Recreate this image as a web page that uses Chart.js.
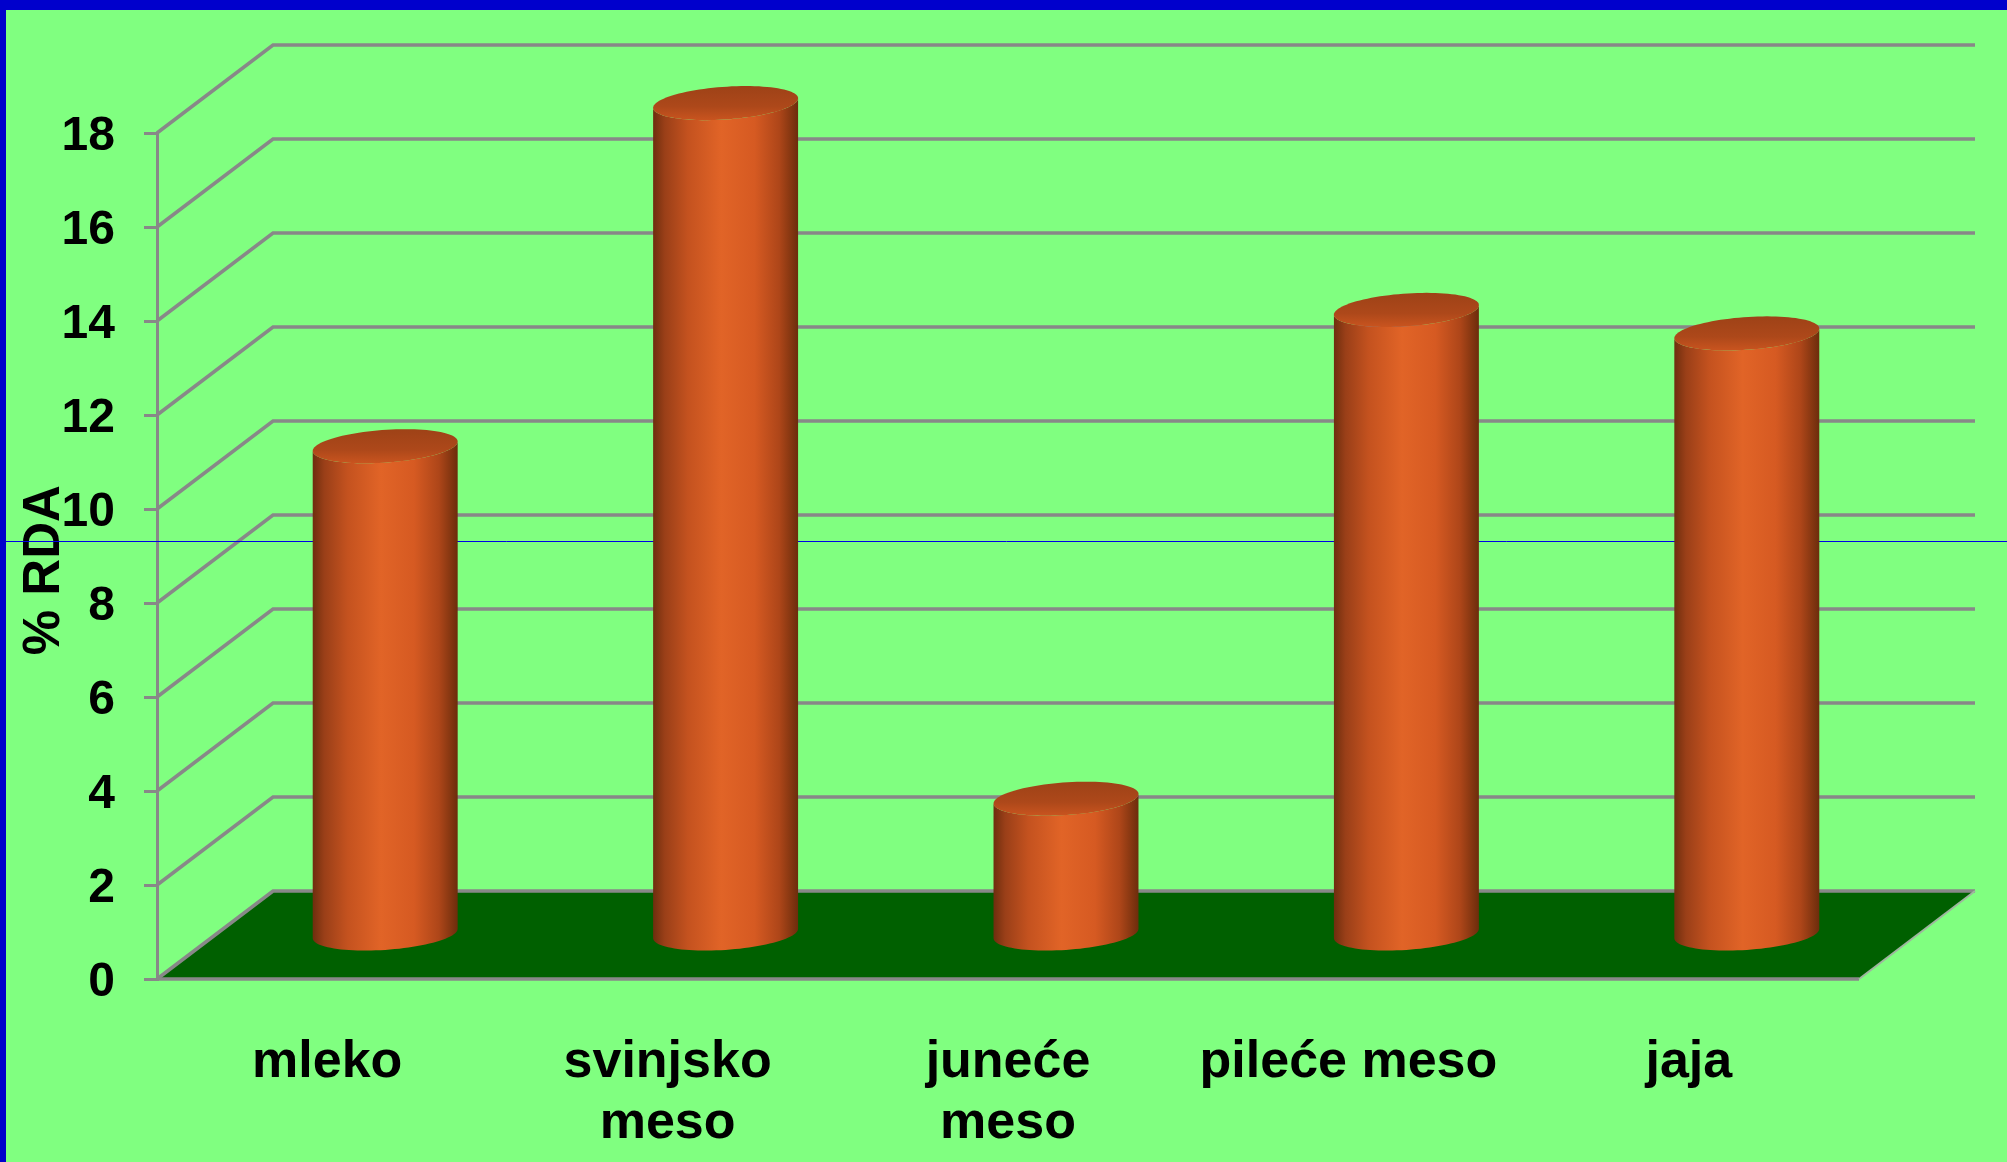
<!DOCTYPE html>
<html>
<head>
<meta charset="utf-8">
<title>% RDA</title>
<script src="https://cdn.jsdelivr.net/npm/chart.js@4.4.1/dist/chart.umd.min.js"></script>
<style>
  html, body { margin: 0; padding: 0; background: #80ff80; overflow: hidden; }
  canvas { display: block; }
</style>
</head>
<body>
<canvas id="rdaChart" width="2007" height="1162"></canvas>
<script>
// Categories (multi-line where the label wraps)
const categories = ['mleko', ['svinjsko', 'meso'], ['juneće', 'meso'], 'pileće meso', 'jaja'];
// Share of the recommended daily allowance, in %
const rdaValues = [10.4, 17.7, 2.9, 13.3, 12.8];
// Value axis ticks
const yTickValues = [0, 2, 4, 6, 8, 10, 12, 14, 16, 18];

const FONT = "'Liberation Sans', Arial, Helvetica, sans-serif";
const GRID = '#888888';
// Oblique depth of the 3D box (screen offset from front to back plane)
const DEPTH_X = 116;
const DEPTH_Y = 88;
// Oblique projection of a horizontal circle: x = r(cos t + K_X sin t), y = -K_Y r sin t
const K_X = 0.29;
const K_Y = 0.245;

function ringPoint(cx, cy, r, t) {
  return [cx + r * (Math.cos(t) + K_X * Math.sin(t)), cy - K_Y * r * Math.sin(t)];
}

const scene3d = {
  id: 'scene3d',
  beforeDraw(chart) {
    const { ctx, width, height } = chart;
    ctx.save();
    ctx.fillStyle = '#80ff80';
    ctx.fillRect(0, 0, width, height);
    ctx.fillStyle = '#0000cc';
    ctx.fillRect(0, 0, width, 10);
    ctx.fillRect(0, 0, 6, height);
    ctx.restore();
  },
  beforeDatasetsDraw(chart) {
    const { ctx, chartArea: a, scales: { y }, width } = chart;
    const y0 = y.getPixelForValue(0);
    ctx.save();

    // floor
    ctx.fillStyle = '#006000';
    ctx.beginPath();
    ctx.moveTo(a.left, y0);
    ctx.lineTo(a.left + DEPTH_X, y0 - DEPTH_Y);
    ctx.lineTo(a.right + DEPTH_X, y0 - DEPTH_Y);
    ctx.lineTo(a.right, y0);
    ctx.closePath();
    ctx.fill();

    // side wall diagonals + back wall gridlines
    ctx.strokeStyle = GRID;
    ctx.lineWidth = 3.5;
    ctx.lineJoin = 'miter';
    yTickValues.forEach(v => {
      const py = y.getPixelForValue(v);
      ctx.beginPath();
      ctx.moveTo(a.left, py);
      ctx.lineTo(a.left + DEPTH_X, py - DEPTH_Y);
      ctx.lineTo(a.right + DEPTH_X, py - DEPTH_Y);
      ctx.stroke();
    });

    // floor front and right edges
    ctx.beginPath();
    ctx.moveTo(a.left, y0);
    ctx.lineTo(a.right, y0);
    ctx.stroke();
    ctx.strokeStyle = '#9fb59f';
    ctx.lineWidth = 2;
    ctx.beginPath();
    ctx.moveTo(a.right, y0);
    ctx.lineTo(a.right + DEPTH_X, y0 - DEPTH_Y);
    ctx.stroke();

    // thin blue rule across the slide
    ctx.strokeStyle = '#0000e6';
    ctx.lineWidth = 1;
    ctx.beginPath();
    ctx.moveTo(6, 541.5);
    ctx.lineTo(width, 541.5);
    ctx.stroke();

    ctx.restore();
  },
  afterDatasetsDraw(chart) {
    const { ctx } = chart;
    const meta = chart.getDatasetMeta(0);
    const N = 48;
    ctx.save();
    meta.data.forEach(bar => {
      const { x, y, base, width } = bar.getProps(['x', 'y', 'base', 'width'], true);
      const r = width / 2;
      const cx = x + DEPTH_X / 2;
      const topY = y - DEPTH_Y / 2;
      const botY = base - DEPTH_Y / 2;
      const t0 = Math.atan(K_X);
      const half = r * Math.sqrt(1 + K_X * K_X);

      // cylinder body
      const g = ctx.createLinearGradient(cx - half, 0, cx + half, 0);
      g.addColorStop(0.00, '#6e2e0e');
      g.addColorStop(0.08, '#9a3f18');
      g.addColorStop(0.24, '#c4521f');
      g.addColorStop(0.47, '#e16427');
      g.addColorStop(0.70, '#d65a22');
      g.addColorStop(0.87, '#ae4619');
      g.addColorStop(1.00, '#6c2d0c');
      ctx.fillStyle = g;
      ctx.beginPath();
      for (let i = 0; i <= N; i++) {
        const p = ringPoint(cx, botY, r, t0 + Math.PI + Math.PI * i / N);
        i === 0 ? ctx.moveTo(p[0], p[1]) : ctx.lineTo(p[0], p[1]);
      }
      for (let i = N; i >= 0; i--) {
        const p = ringPoint(cx, topY, r, t0 + Math.PI + Math.PI * i / N);
        ctx.lineTo(p[0], p[1]);
      }
      ctx.closePath();
      ctx.fill();

      // top cap
      const cg = ctx.createLinearGradient(0, topY - K_Y * r, 0, topY + K_Y * r);
      cg.addColorStop(0, '#9e4217');
      cg.addColorStop(0.6, '#ad481a');
      cg.addColorStop(1, '#c9541f');
      ctx.fillStyle = cg;
      ctx.beginPath();
      for (let i = 0; i <= 2 * N; i++) {
        const p = ringPoint(cx, topY, r, Math.PI * i / N);
        i === 0 ? ctx.moveTo(p[0], p[1]) : ctx.lineTo(p[0], p[1]);
      }
      ctx.closePath();
      ctx.fill();
    });
    ctx.restore();
  }
};

new Chart(document.getElementById('rdaChart'), {
  type: 'bar',
  data: {
    labels: categories,
    datasets: [{
      label: '% RDA',
      data: rdaValues,
      backgroundColor: 'rgba(0,0,0,0)',
      borderWidth: 0,
      categoryPercentage: 1,
      barPercentage: 0.409
    }]
  },
  options: {
    responsive: false,
    animation: false,
    events: [],
    layout: { padding: { left: 0, right: 148, top: 133, bottom: 0 } },
    plugins: {
      legend: { display: false },
      tooltip: { enabled: false }
    },
    scales: {
      x: {
        grid: { display: false, drawTicks: false },
        border: { display: false },
        ticks: {
          color: '#000',
          font: { family: FONT, size: 52, weight: 'bold', lineHeight: 1.17 },
          padding: 53,
          maxRotation: 0,
          autoSkip: false
        },
        afterFit(scale) { scale.height = 183; }
      },
      y: {
        min: 0,
        max: 18,
        afterBuildTicks(scale) { scale.ticks = yTickValues.map(v => ({ value: v })); },
        ticks: {
          color: '#000',
          font: { family: FONT, size: 48, weight: 'bold' },
          padding: 29,
          labelOffset: 4
        },
        grid: { drawOnChartArea: false, drawTicks: true, tickLength: 13, color: GRID, lineWidth: 3 },
        border: { display: true, color: GRID, width: 3 },
        title: {
          display: true,
          text: '% RDA  ',
          color: '#000',
          font: { family: FONT, size: 51, weight: 'bold', lineHeight: 1.2 },
          padding: { top: 14, bottom: 0 }
        },
        afterFit(scale) { scale.width = 157; }
      }
    }
  },
  plugins: [scene3d]
});
</script>
</body>
</html>
